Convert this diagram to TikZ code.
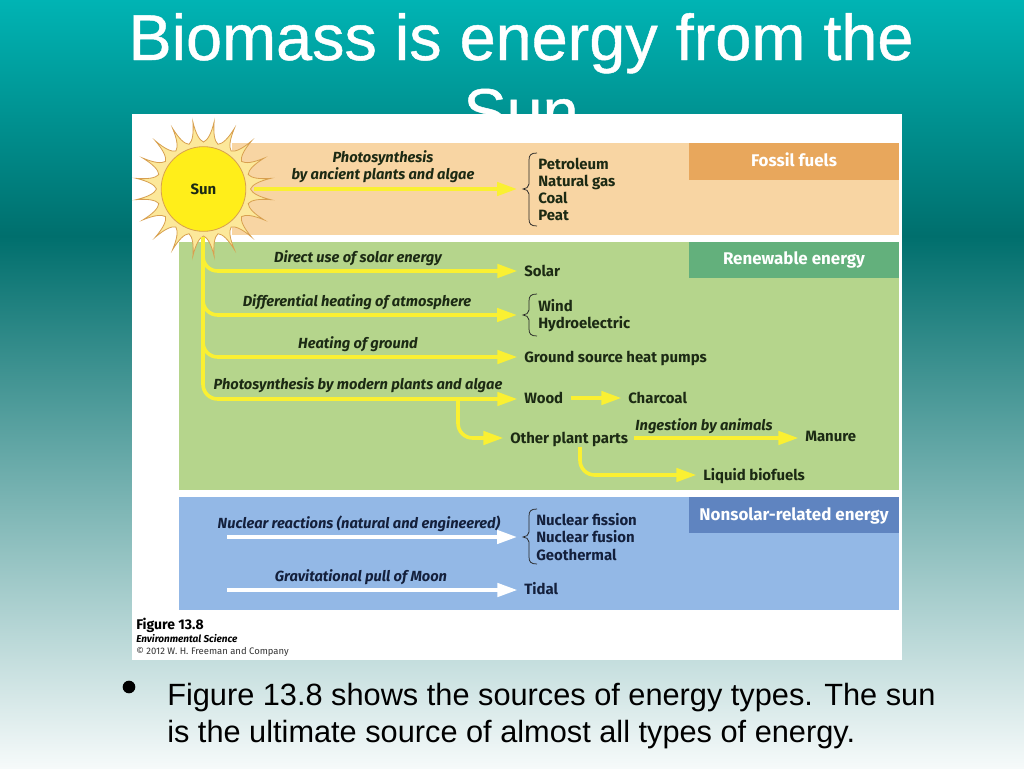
\documentclass[tikz,border=0pt]{standalone}
\usepackage{fontspec}
\setmainfont{Liberation Sans}
\newfontfamily\figfont{Fira Sans}
\newfontfamily\titlefont[FakeBold=0.7]{Liberation Sans}
\usetikzlibrary{arrows.meta}
\definecolor{peach}{HTML}{F8D5A3}
\definecolor{orangeh}{HTML}{E8A75C}
\definecolor{greenp}{HTML}{B5D58C}
\definecolor{greenh}{HTML}{63B07C}
\definecolor{bluep}{HTML}{93B8E6}
\definecolor{blueh}{HTML}{5F84C0}
\definecolor{yarrow}{HTML}{FAF032}
\definecolor{inkgreen}{HTML}{1C2A14}
\definecolor{inkblue}{HTML}{14203C}
\definecolor{bgA}{HTML}{00B4B4}
\definecolor{bgB}{HTML}{006F6D}
\definecolor{bgC}{HTML}{F6FAFA}
\definecolor{raystroke}{HTML}{D8A050}
\definecolor{rayfill}{HTML}{FCE89A}
\definecolor{sunfill}{HTML}{FFEE1A}
\tikzset{
  x=0.75pt,y=-0.75pt,
  lab/.style={anchor=west,inner sep=0pt,text height=10.25pt,text depth=1.75pt,font=\figfont\fontsize{11.2pt}{13pt}\selectfont\bfseries,text=inkgreen},
  captext/.style={anchor=center,inner sep=0pt,font=\figfont\fontsize{11pt}{13pt}\selectfont\bfseries\itshape,text=inkgreen,align=center},
  head/.style={anchor=center,inner sep=0pt,font=\figfont\fontsize{12.7pt}{14pt}\selectfont\bfseries,text=white},
  slidetext/.style={anchor=base,inner sep=0pt,text=white,font=\titlefont\fontsize{48.6pt}{56pt}\selectfont},
  bodytext/.style={anchor=base west,inner sep=0pt,text=black,font=\fontsize{23.05pt}{28pt}\selectfont},
  flow/.style={draw=yarrow,line width=2.7pt,-{Triangle[length=15pt,width=10pt]},rounded corners=11pt},
  wflow/.style={flow,draw=white},
  stop/.style={shorten >=5pt},
  bracket/.style={draw=black!85,line width=0.55pt},
}
\newcommand{\bracepath}[4]{%
  \draw[bracket] (#1+14,#2) .. controls (#1+8,#2) and (#1+6,#2+2) .. (#1+6,#2+7)
    -- (#1+6,#3-5) .. controls (#1+6,#3-2) and (#1+3,#3) .. (#1,#3)
    .. controls (#1+3,#3) and (#1+6,#3+2) .. (#1+6,#3+5)
    -- (#1+6,#4-7) .. controls (#1+6,#4-2) and (#1+8,#4) .. (#1+14,#4);}
\begin{document}
\begin{tikzpicture}
\useasboundingbox (0,0) rectangle (1024,768);
% slide background
\fill[top color=bgA,bottom color=bgB] (0,0) rectangle (1024,236);
\fill[top color=bgB,bottom color=bgC] (0,236) rectangle (1024,768);
% title
\node[slidetext] (title) at (521,60) {Biomass is energy from the};
\node[slidetext] (title2) at (521,134) {Sun};
% figure sheet
\fill[white] (132,114) rectangle (902,660);
\fill[peach] (232,143) rectangle (899,235);
\fill[greenp] (179,242) rectangle (899,490);
\fill[bluep] (179,497) rectangle (899,610);
\fill[orangeh] (689,143) rectangle (899,180);
\fill[greenh] (689,242) rectangle (899,278);
\fill[blueh] (689,497) rectangle (899,533);
\node[head] (hf) at (794,160) {Fossil fuels};
\node[head] (hr) at (794,260) {Renewable energy};
\node[head] (hn) at (794,516) {Nonsolar-related energy};
% sun
\def\tipr{68}\def\valr{47}
\filldraw[fill=rayfill,draw=raystroke,line width=0.6pt]
  (203.5+\valr,189)
  \foreach \k in {0,...,19}{
    .. controls ({203.5+49*cos(18*\k+5)},{189+49*sin(18*\k+5)}) and ({203.5+56*cos(18*\k+8)},{189+56*sin(18*\k+8)}) ..
    ({203.5+\tipr*cos(18*\k+9)},{189+\tipr*sin(18*\k+9)})
    .. controls ({203.5+56*cos(18*\k+10)},{189+56*sin(18*\k+10)}) and ({203.5+49*cos(18*\k+13)},{189+49*sin(18*\k+13)}) ..
    ({203.5+\valr*cos(18*\k+18)},{189+\valr*sin(18*\k+18)})
  } -- cycle;
\node (sun) [circle,draw=raystroke,line width=0.6pt,fill=sunfill,minimum size=63.5pt,inner sep=0pt,font=\figfont\fontsize{11.2pt}{13pt}\selectfont\bfseries,text=inkgreen] at (203.5,189) {Sun};
% end labels
\node[lab] (petroleum) at (538,164) {Petroleum};
\node[lab] (natgas) at (538,181) {Natural gas};
\node[lab] (coal) at (538,198) {Coal};
\node[lab] (peat) at (538,215) {Peat};
\node[lab] (solar) at (524,271) {Solar};
\node[lab] (wind) at (538,306) {Wind};
\node[lab] (hydro) at (538,323) {Hydroelectric};
\node[lab] (ground) at (524,357) {Ground source heat pumps};
\node[lab] (wood) at (524,398) {Wood};
\node[lab] (charcoal) at (628,398) {Charcoal};
\node[lab] (other) at (510,438) {Other plant parts};
\node[lab] (manure) at (805,436) {Manure};
\node[lab] (liquid) at (703,475) {Liquid biofuels};
\node[lab,text=inkblue] (fission) at (536,520) {Nuclear fission};
\node[lab,text=inkblue] (fusion) at (536,537) {Nuclear fusion};
\node[lab,text=inkblue] (geo) at (536,555) {Geothermal};
\node[lab,text=inkblue] (tidal) at (524,589) {Tidal};
% captions
\node[captext] (c1) at (383,167) {Photosynthesis\\by ancient plants and algae};
\node[captext] (c2) at (358,258) {Direct use of solar energy};
\node[captext] (c3) at (357,302) {Differential heating of atmosphere};
\node[captext] (c4) at (358,344) {Heating of ground};
\node[captext] (c5) at (358,385) {Photosynthesis by modern plants and algae};
\node[captext] (c6) at (704,426) {Ingestion by animals};
\node[captext,text=inkblue] (c7) at (359,524) {Nuclear reactions (natural and engineered)};
\node[captext,text=inkblue] (c8) at (361,577) {Gravitational pull of Moon};
% braces
\coordinate (b1) at (523,189);
\coordinate (b2) at (523,315);
\coordinate (b3) at (523,537);
\bracepath{523}{153}{189}{226}
\bracepath{523}{294}{315}{336}
\bracepath{523}{509}{537}{564}
% connectors
\coordinate (trunk) at (203,237);
\coordinate (nucstart) at (227,537);
\coordinate (moonstart) at (227,590);
\coordinate (branch) at (458,399);
\coordinate (bio) at (580,447);
\draw[flow,shorten >=4.5pt] ([xshift=6pt]sun.east) -- (b1);
\draw[flow,stop] (trunk) |- (solar.west);
\draw[flow,shorten >=4.5pt] (trunk) |- (b2);
\draw[flow,stop] (trunk) |- (ground.west);
\draw[flow,stop] (trunk) |- ([yshift=-0.75pt]wood.west);
\draw[flow,stop] (branch) |- (other.west);
\draw[flow,stop] ([xshift=35pt]wood.west) -- (charcoal.west);
\draw[flow,stop] ([xshift=4pt]other.east) -- (other.east -| manure.west);
\draw[flow,stop] (bio) |- (liquid.west);
\draw[wflow,shorten >=4.5pt] (nucstart) -- (b3);
\draw[wflow,stop] (moonstart) -- (moonstart -| tidal.west);
% credit
\node (fig) [anchor=west,inner sep=0pt,font=\figfont\fontsize{10.5pt}{12pt}\selectfont\bfseries,text=black] at (136,625.5) {Figure 13.8};
\node (env) [anchor=west,inner sep=0pt,font=\figfont\fontsize{7.5pt}{9pt}\selectfont\bfseries\itshape,text=black] at (136,639) {Environmental Science};
\node (copy) [anchor=west,inner sep=0pt,font=\figfont\fontsize{7.1pt}{9pt}\selectfont,text=black!80] at (136,652) {© 2012 W. H. Freeman and Company};
% bullet and text
\node (bul) [circle,fill=black,minimum size=9.5pt,inner sep=0pt] at (129,687) {};
\node[bodytext] (body1) at (167,705) {Figure 13.8 shows the sources of energy types. The sun};
\node[bodytext] (body2) at (167,742) {is the ultimate source of almost all types of energy.};
\end{tikzpicture}
\end{document}
